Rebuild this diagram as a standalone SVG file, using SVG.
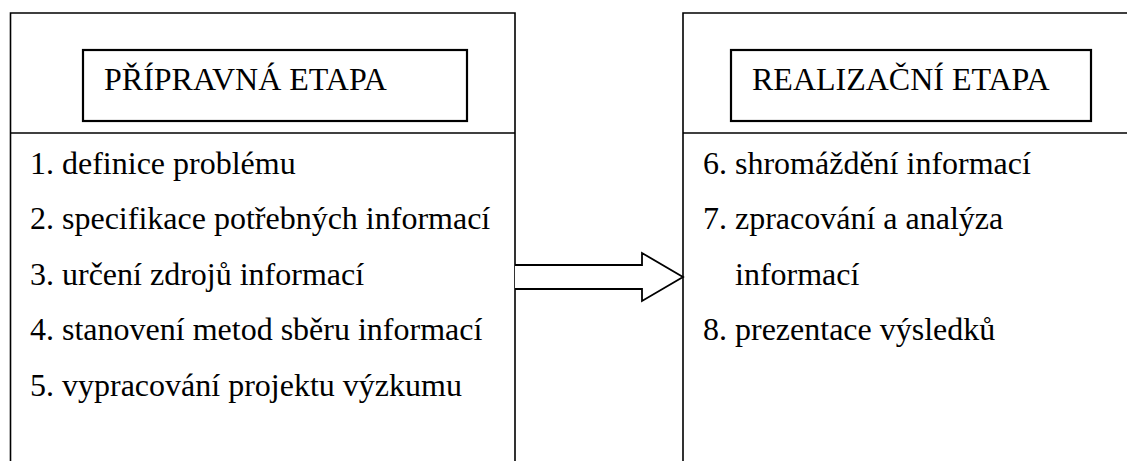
<svg xmlns="http://www.w3.org/2000/svg" width="1127" height="461" viewBox="0 0 1127 461">
  <style>
    .frame { fill: none; stroke: #000; stroke-width: 1.6; }
    .title-box { fill: #fff; stroke: #000; stroke-width: 2.2; }
    .title { font-family: "Liberation Serif", "Times New Roman", serif; font-size: 32px; fill: #000; }
    .item { font-family: "Liberation Serif", "Times New Roman", serif; font-size: 32px; fill: #000; }
    .arrow { fill: #fff; stroke: #000; stroke-width: 1.8; stroke-linejoin: miter; }
  </style>
  <rect x="0" y="0" width="1127" height="461" fill="#fff"/>

  <!-- Preparation stage -->
  <g id="pripravna-etapa">
    <path class="frame" d="M10.5,470 V13 H515 V470"/>
    <line class="frame" x1="10.5" y1="133" x2="515" y2="133"/>
    <rect class="title-box" x="83" y="50" width="384" height="71"/>
    <text class="title" x="104" y="90">PŘÍPRAVNÁ ETAPA</text>
    <text class="item" x="30" y="174">1. definice problému</text>
    <text class="item" x="30" y="229">2. specifikace potřebných informací</text>
    <text class="item" x="30" y="285">3. určení zdrojů informací</text>
    <text class="item" x="30" y="340">4. stanovení metod sběru informací</text>
    <text class="item" x="30" y="396">5. vypracování projektu výzkumu</text>
  </g>

  <!-- Realisation stage -->
  <g id="realizacni-etapa">
    <path class="frame" d="M683,470 V13 H1140"/>
    <line class="frame" x1="683" y1="133" x2="1140" y2="133"/>
    <rect class="title-box" x="731" y="50" width="360" height="71"/>
    <text class="title" x="752" y="90">REALIZAČNÍ ETAPA</text>
    <text class="item" x="703" y="174">6. shromáždění informací</text>
    <text class="item" x="703" y="229">7. zpracování a analýza</text>
    <text class="item" x="735" y="285">informací</text>
    <text class="item" x="703" y="340">8. prezentace výsledků</text>
  </g>

  <!-- Block arrow between the stages -->
  <g id="connectors">
    <path class="arrow" d="M515,265 H642 V253 L683,277 L642,301 V289 H515"/>
  </g>
</svg>
